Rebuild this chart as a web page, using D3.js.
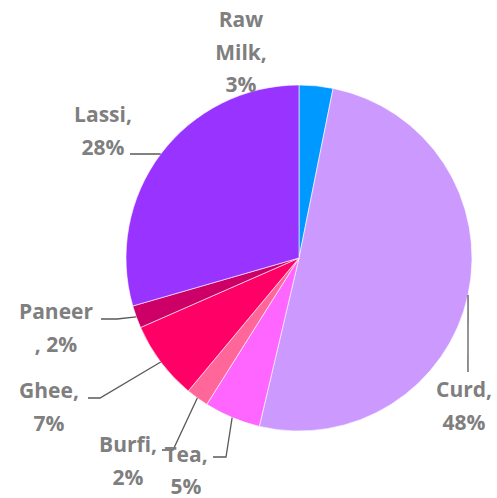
<!DOCTYPE html>
<html><head><meta charset="utf-8">
<script src="https://cdn.jsdelivr.net/npm/d3@7"></script>
<style>html,body{margin:0;padding:0;background:#fff;}svg{display:block;}</style>
</head><body>
<script>
// ---- data ----
const categories = ["Raw Milk", "Curd", "Tea", "Burfi", "Ghee", "Paneer", "Lassi"];
const values = [3, 48, 5, 2, 7, 2, 28];
const colors = ["#0099FF", "#CC99FF", "#FF66FF", "#FF6699", "#FF0066", "#CC0066", "#9933FF"];
const labelLines = [["Raw", "Milk,", "3%"], ["Curd,", "48%"], ["Tea,", "5%"], ["Burfi,", "2%"], ["Ghee,", "7%"], ["Paneer", ", 2%"], ["Lassi,", "28%"]];

// ---- layout ----
const W = 497, H = 498, cx = 299, cy = 258, R = 173, lineH = 32.5;
// label text anchor (center x, first baseline y) and leader points near label (null = none)
const labelLayout = [
  {x: 241, y: 27, lead: null},
  {x: 464, y: 397, lead: [[468, 372]]},
  {x: 186, y: 462, lead: [[213, 457], [226, 457]]},
  {x: 128, y: 452, lead: [[162, 450], [173, 450]]},
  {x: 49, y: 398, lead: [[88, 398], [100, 398]]},
  {x: 56, y: 319, lead: [[101, 319], [117, 319]]},
  {x: 103, y: 122, lead: [[130, 154]]}
];

const svg = d3.select("body").append("svg").attr("width", W).attr("height", H);
const g = svg.append("g").attr("transform", `translate(${cx},${cy})`);

const pie = d3.pie().sort(null).value(d => d)(values);
const arc = d3.arc().innerRadius(0).outerRadius(R);

g.selectAll("path.slice").data(pie).join("path")
  .attr("class", "slice")
  .attr("d", arc)
  .attr("fill", (d, i) => colors[i])
  .attr("stroke", "#fff").attr("stroke-width", 0.6);

// leader lines
pie.forEach((d, i) => {
  const L = labelLayout[i];
  if (!L.lead) return;
  const a = (d.startAngle + d.endAngle) / 2;
  const ex = cx + R * Math.sin(a), ey = cy - R * Math.cos(a);
  const pts = L.lead.concat([[ex, ey]]);
  svg.append("path")
    .attr("d", d3.line()(pts))
    .attr("fill", "none").attr("stroke", "#595959").attr("stroke-width", 1.3);
});

// labels
labelLines.forEach((lines, i) => {
  const L = labelLayout[i];
  const t = svg.append("text")
    .attr("text-anchor", "middle")
    .attr("font-family", "'Open Sans', Lato, sans-serif")
    .attr("font-weight", "bold")
    .attr("font-size", 21)
    .attr("fill", "#7F7F7F");
  lines.forEach((s, j) => {
    t.append("tspan").attr("x", L.x).attr("y", L.y + j * (i === 2 ? 31.5 : lineH)).text(s);
  });
});
</script>
</body></html>
